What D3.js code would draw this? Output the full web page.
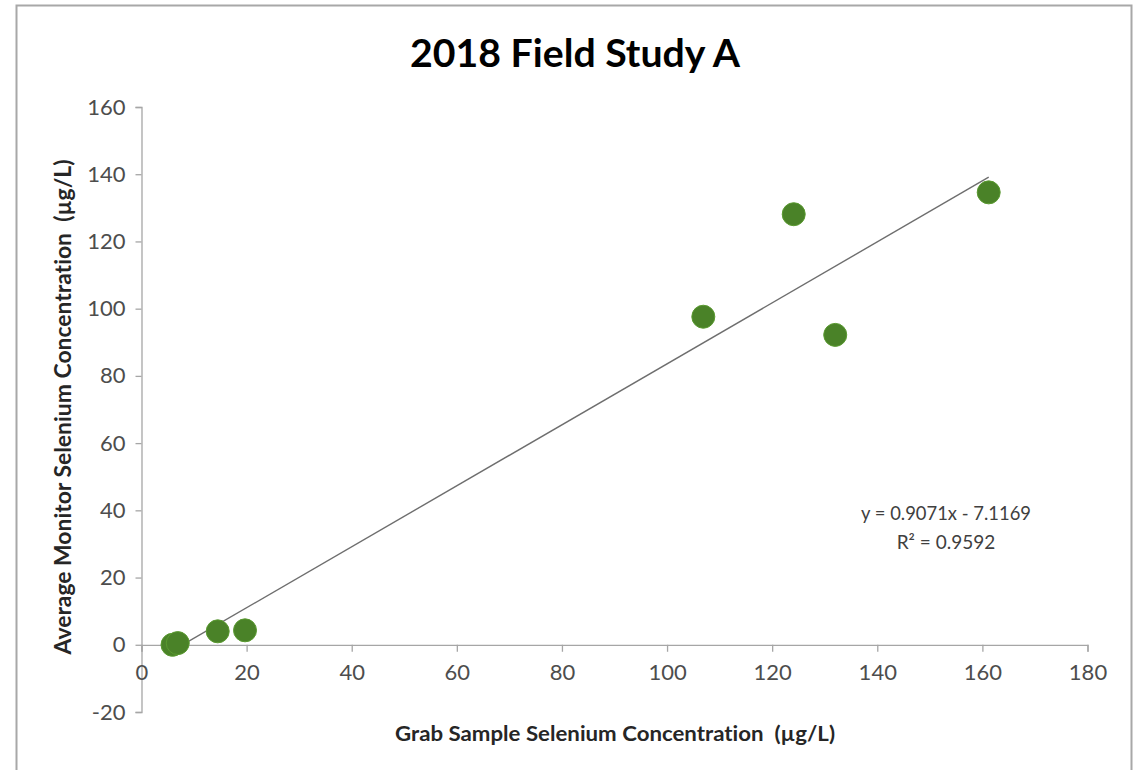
<!DOCTYPE html>
<html>
<head>
<meta charset="utf-8">
<script src="https://cdn.jsdelivr.net/npm/d3@7"></script>
<style>
  html, body { margin: 0; padding: 0; background: #fff; }
  svg { display: block; }
  text { font-family: Lato, "Open Sans", "DejaVu Sans", sans-serif; font-variant-ligatures: none; font-feature-settings: "liga" 0, "clig" 0; letter-spacing: 0.01px; }
</style>
</head>
<body>
<svg id="chart" width="1140" height="770"></svg>
<script>
// ---- data ----
const grabSample = [5.9, 6.9, 14.5, 19.7, 106.9, 124.1, 132.0, 161.2];
const monitorAvg = [0.0, 0.5, 4.0, 4.3, 97.6, 128.1, 92.2, 134.6];
const xTicks = [0, 20, 40, 60, 80, 100, 120, 140, 160, 180];
const yTicks = [-20, 0, 20, 40, 60, 80, 100, 120, 140, 160];
const trendSlope = 0.9071;
const trendIntercept = -7.1169;
const titleText = "2018 Field Study A";
const xLabelText = "Grab Sample Selenium Concentration\u00a0 (\u00b5g/L)";
const yLabelText = "Average Monitor Selenium Concentration\u00a0 (\u00b5g/L)";
const eqLine1 = "y = 0.9071x - 7.1169";
const eqLine2 = "R\u00b2 = 0.9592";

const points = grabSample.map((x, i) => ({ x, y: monitorAvg[i] }));

// ---- layout ----
const svg = d3.select("#chart");
const x = d3.scaleLinear().domain([0, 180]).range([141.5, 1087.5]);
const y = d3.scaleLinear().domain([-20, 160]).range([712, 107]);
const fmt = d => String(d);

// outer border
svg.append("path")
  .attr("d", "M16.5,772 L16.5,5.5 L1131.5,5.5 L1131.5,772")
  .attr("fill", "none").attr("stroke", "#a8a8a8").attr("stroke-width", 2);

// title
svg.append("text")
  .attr("x", 575).attr("y", 66.5)
  .attr("text-anchor", "middle")
  .attr("font-size", 39).attr("font-weight", "bold").attr("fill", "#000")
  .attr("textLength", 330).attr("lengthAdjust", "spacingAndGlyphs")
  .text(titleText);

// y axis
const yAxis = d3.axisLeft(y).tickValues(yTicks).tickFormat(fmt).tickSize(6).tickPadding(10);
const gy = svg.append("g").attr("transform", `translate(${x(0)},0)`).call(yAxis);
gy.select(".domain").attr("stroke", "#a6a6a6").attr("stroke-width", 1.3);
gy.selectAll(".tick line").attr("stroke", "#a6a6a6").attr("stroke-width", 1.3);
gy.selectAll(".tick text")
  .attr("font-size", 22).attr("fill", "#4d4d4d")
  .attr("font-family", "Lato, 'Open Sans', sans-serif");

// x axis at y = 0
const xAxis = d3.axisBottom(x).tickValues(xTicks).tickFormat(fmt).tickSize(7).tickPadding(13);
const gx = svg.append("g").attr("transform", `translate(0,${y(0)})`).call(xAxis);
gx.select(".domain").attr("stroke", "#a6a6a6").attr("stroke-width", 1.3);
gx.selectAll(".tick line").attr("stroke", "#a6a6a6").attr("stroke-width", 1.3);
gx.selectAll(".tick text")
  .attr("font-size", 22).attr("fill", "#4d4d4d")
  .attr("font-family", "Lato, 'Open Sans', sans-serif");

// trendline
const xr = d3.extent(grabSample);
const trend = xr.map(v => ({ x: v, y: trendSlope * v + trendIntercept }));
svg.append("path")
  .datum(trend)
  .attr("d", d3.line().x(d => x(d.x)).y(d => y(d.y)))
  .attr("fill", "none").attr("stroke", "#6e6e6e").attr("stroke-width", 1.4);

// points
svg.append("g").selectAll("circle")
  .data(points).join("circle")
  .attr("cx", d => x(d.x)).attr("cy", d => y(d.y))
  .attr("r", 11.5)
  .attr("fill", "#4a8228")
  .attr("stroke", "#5a9a30").attr("stroke-width", 1);

// equation text
svg.append("text")
  .attr("x", 946).attr("y", 520).attr("text-anchor", "middle")
  .attr("font-size", 19).attr("fill", "#404040")
  .attr("textLength", 170).attr("lengthAdjust", "spacingAndGlyphs")
  .text(eqLine1);
svg.append("text")
  .attr("x", 946).attr("y", 549).attr("text-anchor", "middle")
  .attr("font-size", 19).attr("fill", "#404040")
  .text(eqLine2);

// axis titles
svg.append("text")
  .attr("x", 615).attr("y", 741)
  .attr("text-anchor", "middle")
  .attr("font-size", 21).attr("font-weight", "bold").attr("fill", "#262626")
  .attr("textLength", 440).attr("lengthAdjust", "spacingAndGlyphs")
  .text(xLabelText);

svg.append("text")
  .attr("transform", "translate(71,407) rotate(-90)")
  .attr("text-anchor", "middle")
  .attr("font-size", 22).attr("font-weight", "bold").attr("fill", "#262626")
  .attr("textLength", 495).attr("lengthAdjust", "spacingAndGlyphs")
  .text(yLabelText);
</script>
</body>
</html>
